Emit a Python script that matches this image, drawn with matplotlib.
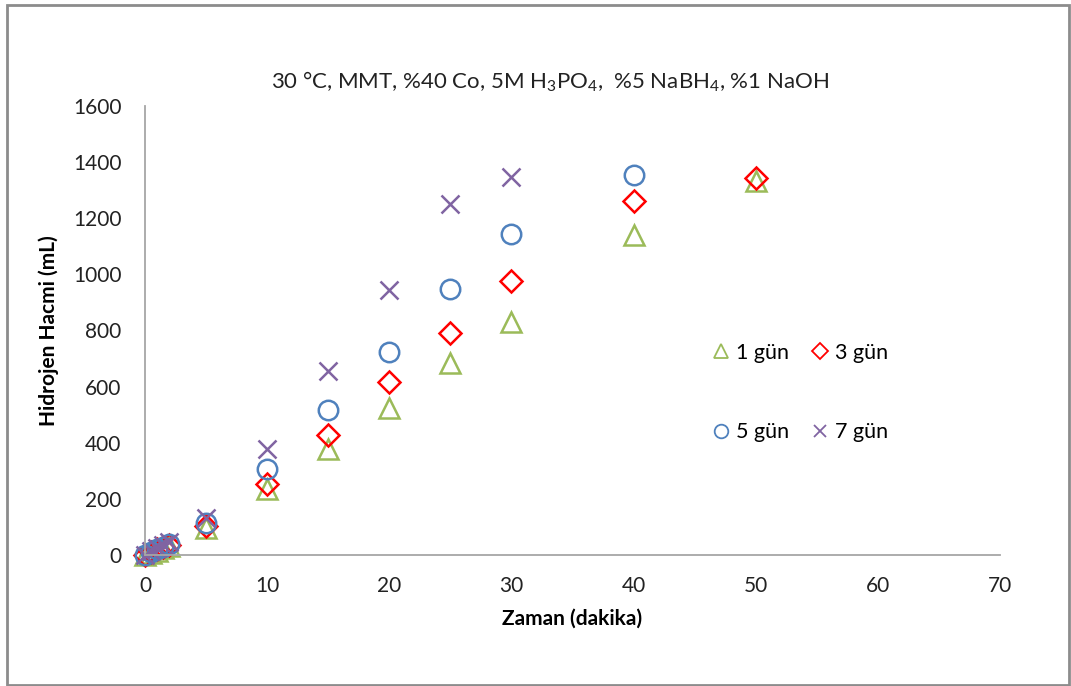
import matplotlib
matplotlib.use("Agg")
import matplotlib.pyplot as plt
from matplotlib.patches import Rectangle

# Time (min) and hydrogen volume (mL) for each aging period
time_1 = [0, 0.5, 1, 1.5, 2, 5, 10, 15, 20, 25, 30, 40, 50]
vol_1 = [0, 8, 15, 25, 32, 96, 235, 378, 524, 684, 830, 1140, 1333]

time_3 = [0, 0.5, 1, 1.5, 2, 5, 10, 15, 20, 25, 30, 40, 50]
vol_3 = [0, 10, 20, 28, 36, 105, 253, 428, 617, 791, 976, 1262, 1344]

time_5 = [0, 0.5, 1, 1.5, 2, 5, 10, 15, 20, 25, 30, 40]
vol_5 = [0, 12, 22, 30, 40, 115, 306, 517, 723, 948, 1144, 1354]

time_7 = [0, 0.5, 1, 1.5, 2, 5, 10, 15, 20, 25, 30]
vol_7 = [0, 14, 25, 35, 45, 132, 378, 656, 944, 1251, 1347]

labels = ["1 gün", "3 gün", "5 gün", "7 gün"]
x_ticks = [0, 10, 20, 30, 40, 50, 60, 70]
y_ticks = [0, 200, 400, 600, 800, 1000, 1200, 1400, 1600]

plt.rcParams["font.family"] = ["Lato", "DejaVu Sans"]
plt.rcParams["mathtext.fontset"] = "custom"
plt.rcParams["mathtext.rm"] = "Lato"
plt.rcParams["mathtext.it"] = "Lato"
plt.rcParams["mathtext.bf"] = "Lato:bold"

W, H = 1071, 686
fig = plt.figure(figsize=(W / 100, H / 100), dpi=100)
fig.patch.set_facecolor("white")

# outer chart frame
fig.patches.append(Rectangle((7 / W, 1 - 685 / H), (1069 - 7) / W, (685 - 5) / H,
                             transform=fig.transFigure, fill=False,
                             edgecolor="#8c8c8c", linewidth=2.0))

ax = fig.add_axes([145 / W, 1 - 555 / H, (1000 - 145) / W, (555 - 106) / H])

green = "#9BBB59"
red = "#FF0000"
blue = "#4F81BD"
purple = "#8064A2"

ms = 14
mew = 1.8
h1, = ax.plot(time_1, vol_1, linestyle="none", marker="^", ms=ms + 1, mfc="none",
              mec=green, mew=mew, label=labels[0])
h3, = ax.plot(time_3, vol_3, linestyle="none", marker="D", ms=ms - 2.5, mfc="none",
              mec=red, mew=mew, label=labels[1])
h5, = ax.plot(time_5, vol_5, linestyle="none", marker="o", ms=ms, mfc="none",
              mec=blue, mew=mew, label=labels[2])
h7, = ax.plot(time_7, vol_7, linestyle="none", marker="x", ms=ms - 1, color=purple,
              mew=mew, label=labels[3])

ax.set_xlim(0, 70)
ax.set_ylim(0, 1600)
ax.set_xticks(x_ticks)
ax.set_yticks(y_ticks)
for ln in ax.lines:
    ln.set_clip_on(False)

ax.tick_params(axis="both", length=0, labelsize=15, colors="#222222")
ax.tick_params(axis="y", pad=17)
ax.tick_params(axis="x", pad=15)

for side in ("top", "right"):
    ax.spines[side].set_visible(False)
for side in ("left", "bottom"):
    ax.spines[side].set_color("#A6A6A6")
    ax.spines[side].set_linewidth(1.3)

ax.set_xlabel("Zaman (dakika)", fontsize=15, fontweight="bold", labelpad=9)
ax.set_ylabel("Hidrojen Hacmi (mL)", fontsize=15, fontweight="bold", labelpad=10)

fig.text(550 / W, 1 - 82 / H,
         "30 °C, MMT, %40 Co, 5M H$_3$PO$_4$,  %5 NaBH$_4$, %1 NaOH",
         ha="center", va="center", fontsize=16, color="#222222")

# two columns, filled so that rows read 1-3 / 5-7
leg = ax.legend(handles=[h1, h5, h3, h7], ncol=2, loc="upper left",
                bbox_to_anchor=(702 / W, 1 - 332 / H),
                bbox_transform=fig.transFigure, frameon=False, fontsize=15.5,
                markerscale=0.7, handlelength=0.8, handletextpad=0.3,
                columnspacing=1.0, labelspacing=2.77, borderpad=0)
for lh in leg.legend_handles:
    lh.set_markeredgewidth(1.3)

fig.savefig("out.png", dpi=100, facecolor="white")
